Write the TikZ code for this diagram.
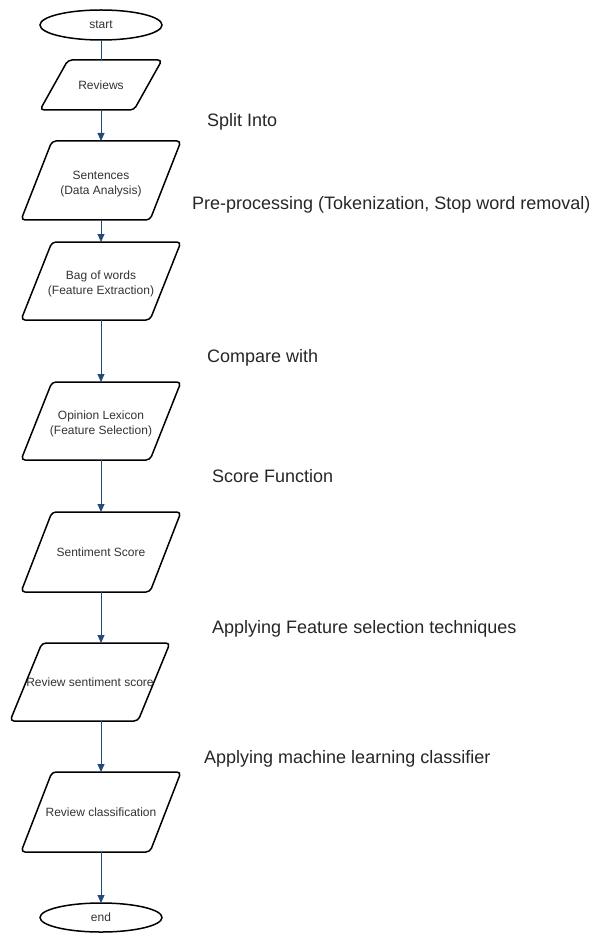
\documentclass[tikz,border=0pt]{standalone}
\usepackage{fontspec}
\setmainfont{Liberation Sans}
\usetikzlibrary{arrows.meta,shapes.geometric}

\definecolor{flowblue}{RGB}{36,74,124}
\definecolor{txtgray}{RGB}{51,51,51}

\tikzset{
  io/.style={rectangle,inner sep=0pt,outer sep=0pt,minimum width=160pt,minimum height=79pt,
    align=center,text=txtgray,font=\fontsize{12}{15}\selectfont},
  term/.style={ellipse,draw,line width=1.5pt,inner sep=0pt,outer sep=0pt,minimum width=122pt,
    minimum height=30pt,text=txtgray,font=\fontsize{12}{15}\selectfont},
  note/.style={anchor=base west,inner sep=0pt,text=black!85,font=\fontsize{18}{22}\selectfont},
  flow/.style={draw=flowblue,line width=1pt},
  >={Triangle[width=7pt,length=8pt]}
}

\begin{document}
\begin{tikzpicture}[x=1pt,y=-1pt]
  \useasboundingbox (0,0) rectangle (590,933);

  % steps
  \node[term] (start) at (101,25) {start};
  \node[io,minimum width=122pt,minimum height=50pt] (rev) at (101,85) {Reviews};
  \node[io] (sen) at (101,180.5) {\rule{0pt}{15pt}Sentences\\(Data Analysis)};
  \node[io,minimum height=78pt] (bag) at (101,281) {\rule{0pt}{14pt}Bag of words\\(Feature Extraction)};
  \node[io,minimum height=78pt] (lex) at (101,421) {\rule{0pt}{14pt}Opinion Lexicon\\(Feature Selection)};
  \node[io,minimum height=80pt] (score) at (101,552) {Sentiment Score};
  \node[io,minimum height=78pt] (rss) at (90,682) {Review sentiment score};
  \node[io,minimum height=80pt] (cls) at (101,812) {Review classification};
  \node[term,minimum height=29pt] (stop) at (101,917.5) {end};

  % parallelogram outlines
  \foreach \n/\s in {rev/28pt,sen/31pt,bag/31pt,lex/31pt,score/31pt,rss/32pt,cls/31pt}
    \draw[line width=1.5pt,rounded corners=4pt] ([xshift=\s]\n.north west) -- (\n.north east)
      -- ([xshift=-\s]\n.south east) -- (\n.south west) -- cycle;

  % connectors
  \draw[flow] (start.south) -- (rev.north);
  \draw[flow,->] (rev.south) -- (sen.north);
  \draw[flow,->] (sen.south) -- (bag.north);
  \draw[flow,->] (bag.south) -- (lex.north);
  \draw[flow,->] (lex.south) -- (score.north);
  \draw[flow,->] (score.south) -- (score.south |- rss.north);
  \draw[flow,->] (cls.north |- rss.south) -- (cls.north);
  \draw[flow,->] (cls.south) -- (stop.north);

  % annotations
  \node[note] (lsplit) at (207,126.7) {Split Into};
  \node[note] (lpre) at (192,210) {Pre-processing (Tokenization, Stop word removal)};
  \node[note] (lcmp) at (207,362) {Compare with};
  \node[note] (lfun) at (212,482.7) {Score Function};
  \node[note] (lsel) at (212,633) {Applying Feature selection techniques};
  \node[note] (lml) at (204,763) {Applying machine learning classifier};
\end{tikzpicture}
\end{document}
